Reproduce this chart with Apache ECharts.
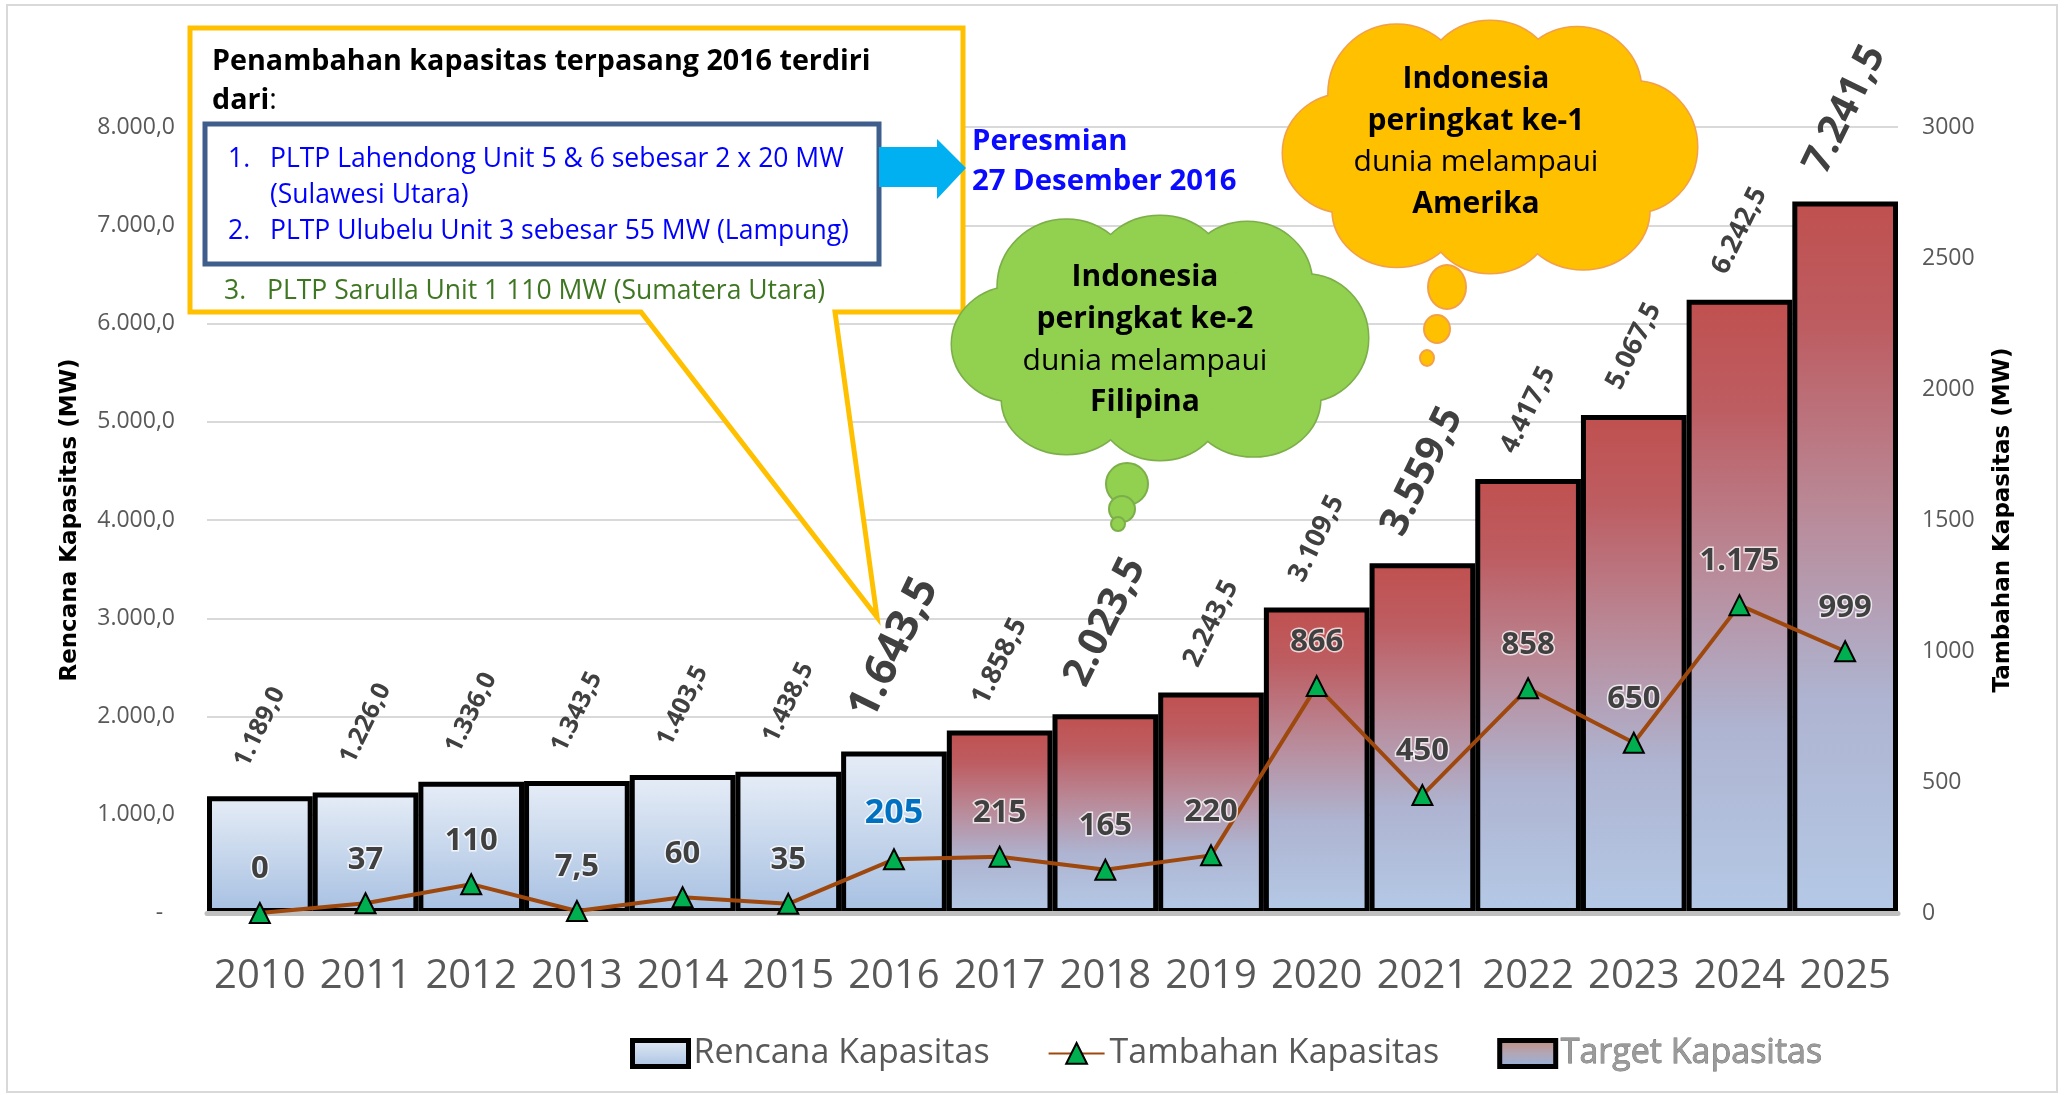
<!DOCTYPE html>
<html><head><meta charset="utf-8">
<script src="https://cdn.jsdelivr.net/npm/echarts@6/dist/echarts.min.js"></script>
<style>html,body{margin:0;padding:0;background:#fff}#c{width:2067px;height:1095px}</style>
</head><body><div id="c"></div>
<script>
// ---------- DATA ----------
const years = ['2010','2011','2012','2013','2014','2015','2016','2017','2018','2019','2020','2021','2022','2023','2024','2025'];
const rencanaKapasitas = [1189.0, 1226.0, 1336.0, 1343.5, 1403.5, 1438.5, 1643.5];            // 2010-2016
const targetKapasitas = [1858.5, 2023.5, 2243.5, 3109.5, 3559.5, 4417.5, 5067.5, 6242.5, 7241.5]; // 2017-2025
const tambahanKapasitas = [0, 37, 110, 7.5, 60, 35, 205, 215, 165, 220, 866, 450, 858, 650, 1175, 999];
const leftAxisTicks = [0, 1000, 2000, 3000, 4000, 5000, 6000, 7000, 8000];
const rightAxisTicks = [0, 500, 1000, 1500, 2000, 2500, 3000];
const bigLabelYears = { '2016': 44, '2018': 40, '2021': 40, '2025': 40 };
const smallLabelYears = ['2010','2011','2012','2013','2014','2015'];
const highlightYear = '2016';

// ---------- HELPERS ----------
const FONT = '"Open Sans", "Noto Sans", sans-serif';
function fmtID(v, dec) {
  const s = Number(v).toFixed(dec);
  let parts = s.split('.');
  let ip = parts[0].replace(/\B(?=(\d{3})+(?!\d))/g, '.');
  return parts[1] ? ip + ',' + parts[1] : ip;
}
function barLabel(year) {
  let fs = smallLabelYears.includes(year) ? 25 : 27;
  let dist = 69;
  if (bigLabelYears[year]) { fs = bigLabelYears[year]; dist = fs > 42 ? 103 : 92; }
  return { fontSize: fs, distance: dist };
}
const nR = rencanaKapasitas.length;
const rencanaData = years.map((y, i) => i < nR ? { value: rencanaKapasitas[i], label: barLabel(y) } : '-');
const targetData = years.map((y, i) => i >= nR ? { value: targetKapasitas[i - nR], label: barLabel(y) } : '-');
const tambahanData = years.map((y, i) => {
  const d = { value: tambahanKapasitas[i] };
  if (y === highlightYear) d.label = { color: '#0070c0', fontSize: 34, distance: 18 };
  return d;
});

const blueGrad = { type: 'linear', x: 0, y: 0, x2: 0, y2: 1, colorStops: [
  { offset: 0, color: '#e6edf7' }, { offset: 0.45, color: '#cad9ed' }, { offset: 1, color: '#a7c0e2' }] };
const redGrad = { type: 'linear', x: 0, y: 0, x2: 0, y2: 1, colorStops: [
  { offset: 0, color: '#c0504f' }, { offset: 0.18, color: '#bd5d62' }, { offset: 0.45, color: '#b98c9b' },
  { offset: 0.7, color: '#aeb4d1' }, { offset: 1, color: '#b4c9e6' }] };
const legendTargetGrad = { type: 'linear', x: 0, y: 0, x2: 0, y2: 1, colorStops: [
  { offset: 0, color: '#c28a78' }, { offset: 0.5, color: '#b3a6b6' }, { offset: 1, color: '#8fb4e0' }] };

const barLabelBase = {
  show: true, position: 'top', rotate: 64, align: 'center', verticalAlign: 'middle',
  color: '#404040', fontWeight: 'bold', fontFamily: FONT,
  formatter: p => fmtID(p.value, 1)
};

// ---------- ANNOTATION GRAPHICS ----------
function cloud(cx, cy, rx, ry, fill, stroke, bubbles) {
  const T = [[-0.70,0.05,0.30,0.47],[-0.45,-0.42,0.33,0.55],[0,-0.55,0.31,0.45],[0.42,-0.45,0.31,0.5],
             [0.70,0,0.30,0.52],[0.45,0.5,0.32,0.47],[0,0.55,0.30,0.45],[-0.45,0.5,0.31,0.45],[0,0,0.72,0.62]];
  const els = [];
  const shapes = T.map(t => ({ cx: cx + t[0]*rx, cy: cy + t[1]*ry, rx: t[2]*rx, ry: t[3]*ry }));
  shapes.forEach(s => els.push({ type: 'ellipse', shape: s, style: { fill, stroke, lineWidth: 3 }, z: 50, silent: true }));
  shapes.forEach(s => els.push({ type: 'ellipse', shape: s, style: { fill }, z: 51, silent: true }));
  bubbles.forEach(b => els.push({ type: 'ellipse', shape: { cx: b[0], cy: b[1], rx: b[2], ry: b[3] },
    style: { fill, stroke, lineWidth: 2 }, z: 50, silent: true }));
  return els;
}
function txt(x, y, text, opt) {
  return Object.assign({ type: 'text', x, y, z: 60, silent: true,
    style: Object.assign({ text, fontFamily: FONT, fontSize: 29, fill: '#000', textAlign: 'left', textVerticalAlign: 'middle' }, opt || {}) });
}
function ctxt(x, y, text, bold) {
  return txt(x, y, text, { textAlign: 'center', fontWeight: bold ? 'bold' : 'normal', fontSize: 30 });
}
const LIST_FS = 26.5;

const graphics = [
  { type: 'rect', shape: { x: 7, y: 5, width: 2050, height: 1087 }, style: { fill: 'none', stroke: '#d9d9d9', lineWidth: 2 }, z: 0, silent: true },
  // callout
  { type: 'polygon', shape: { points: [[190,28],[963,28],[963,312],[835,312],[877,617],[641,312],[190,312]] },
    style: { fill: '#fff', stroke: '#ffc000', lineWidth: 5, lineJoin: 'miter' }, z: 40, silent: true },
  { type: 'rect', shape: { x: 205, y: 124, width: 674, height: 140 }, style: { fill: '#fff', stroke: '#3f5e8c', lineWidth: 5 }, z: 41, silent: true },
  { type: 'polygon', shape: { points: [[879,147],[937,147],[937,139],[966,168],[937,199],[937,187],[879,187]] },
    style: { fill: '#00b0f0' }, z: 42, silent: true },
  txt(212, 62, 'Penambahan kapasitas terpasang 2016 terdiri', { fontWeight: 'bold', fontSize: 28.7 }),
  { type: 'text', x: 212, y: 101, z: 60, silent: true, style: { text: '{b|dari}{n|:}', textVerticalAlign: 'middle',
      rich: { b: { fontFamily: FONT, fontSize: 28.7, fontWeight: 'bold', fill: '#000' }, n: { fontFamily: FONT, fontSize: 28.7, fill: '#000' } } } },
  txt(228, 159, '1.', { fontSize: LIST_FS, fill: '#0000ff' }),
  txt(270, 159, 'PLTP Lahendong Unit 5 & 6 sebesar 2 x 20 MW', { fontSize: LIST_FS, fill: '#0000ff' }),
  txt(270, 195, '(Sulawesi Utara)', { fontSize: LIST_FS, fill: '#0000ff' }),
  txt(228, 231, '2.', { fontSize: LIST_FS, fill: '#0000ff' }),
  txt(270, 231, 'PLTP Ulubelu Unit 3 sebesar 55 MW (Lampung)', { fontSize: LIST_FS, fill: '#0000ff' }),
  txt(224, 291, '3.', { fontSize: LIST_FS, fill: '#3f7622' }),
  txt(267, 291, 'PLTP Sarulla Unit 1 110 MW (Sumatera Utara)', { fontSize: LIST_FS, fill: '#3f7622' }),
  txt(972, 142, 'Peresmian', { fontWeight: 'bold', fill: '#0a0aff', fontSize: 29.3 }),
  txt(972, 182, '27 Desember 2016', { fontWeight: 'bold', fill: '#0a0aff', fontSize: 29.3 }),
].concat(
  cloud(1160, 338, 208, 122, '#92d050', '#7cae4a', [[1127,484,21,21],[1122,509,13,13],[1118,524,7,7]]),
  [ctxt(1145, 277, 'Indonesia', true), ctxt(1145, 319, 'peringkat ke-2', true), ctxt(1145, 361, 'dunia melampaui', false), ctxt(1145, 402, 'Filipina', true)],
  cloud(1490, 147, 207, 126, '#ffc000', '#f3a04a', [[1447,287,19,22],[1437,329,13,14],[1427,358,7,8]]),
  [ctxt(1476, 79, 'Indonesia', true), ctxt(1476, 121, 'peringkat ke-1', true), ctxt(1476, 162, 'dunia melampaui', false), ctxt(1476, 204, 'Amerika', true)]
);

// ---------- CHART ----------
const chart = echarts.init(document.getElementById('c'), null, { renderer: 'canvas' });
chart.setOption({
  backgroundColor: '#fff',
  animation: false,
  grid: { left: 207, right: 169, top: 127, bottom: 182, outerBoundsMode: 'none' },
  legend: {
    left: 625, top: 1031, itemWidth: 56, itemHeight: 26, itemGap: 58,
    textStyle: { fontFamily: FONT, fontSize: 34, color: '#595959' },
    data: [
      { name: 'Rencana Kapasitas', icon: 'rect', itemStyle: { borderColor: '#000', borderWidth: 5 } },
      { name: 'Tambahan Kapasitas' },
      { name: 'Target Kapasitas', icon: 'rect', itemStyle: { color: legendTargetGrad, borderColor: '#000', borderWidth: 5 },
        textStyle: { color: '#9a9a9a', textBorderColor: '#6a6a6a', textBorderWidth: 0.8 } }
    ]
  },
  xAxis: {
    type: 'category', data: years, z: 3,
    axisLine: { show: true, lineStyle: { color: '#bfbfbf', width: 5 } },
    axisTick: { show: false },
    axisLabel: { fontFamily: FONT, fontSize: 40, color: '#595959', margin: 44, interval: 0 }
  },
  yAxis: [
    {
      type: 'value', min: leftAxisTicks[0], max: leftAxisTicks[leftAxisTicks.length - 1], interval: leftAxisTicks[1] - leftAxisTicks[0],
      name: 'Rencana Kapasitas (MW)', nameLocation: 'middle', nameGap: 125,
      nameTextStyle: { fontFamily: '"DejaVu Sans", sans-serif', fontWeight: 'bold', fontSize: 23, color: '#000' },
      axisLine: { show: false }, axisTick: { show: false },
      splitLine: { show: true, lineStyle: { color: '#d9d9d9', width: 2 } },
      axisLabel: { fontFamily: FONT, fontSize: 23, color: '#595959', margin: 32,
        formatter: v => v === 0 ? '-  ' : fmtID(v, 1) }
    },
    {
      type: 'value', min: rightAxisTicks[0], max: rightAxisTicks[rightAxisTicks.length - 1], interval: rightAxisTicks[1] - rightAxisTicks[0],
      name: 'Tambahan Kapasitas (MW)', nameLocation: 'middle', nameGap: 94,
      nameTextStyle: { fontFamily: '"DejaVu Sans", sans-serif', fontWeight: 'bold', fontSize: 23, color: '#000' },
      axisLine: { show: false }, axisTick: { show: false }, splitLine: { show: false },
      axisLabel: { fontFamily: FONT, fontSize: 23, color: '#595959', margin: 24, formatter: v => String(v) }
    }
  ],
  series: [
    {
      name: 'Rencana Kapasitas', type: 'bar', stack: 'kap', barWidth: '100%', barCategoryGap: 0, z: 2,
      itemStyle: { color: blueGrad, borderColor: '#000', borderWidth: 5 },
      label: barLabelBase, data: rencanaData, silent: true
    },
    {
      name: 'Target Kapasitas', type: 'bar', stack: 'kap', barWidth: '100%', barCategoryGap: 0, z: 2,
      itemStyle: { color: redGrad, borderColor: '#000', borderWidth: 5 },
      label: barLabelBase, data: targetData, silent: true
    },
    {
      name: 'Tambahan Kapasitas', type: 'line', yAxisIndex: 1, z: 5,
      symbol: 'triangle', symbolSize: [20, 20],
      lineStyle: { color: '#9e480e', width: 4 },
      itemStyle: { color: '#00b050', borderColor: '#000', borderWidth: 2 },
      label: { show: true, position: 'top', distance: 17, fontFamily: FONT, fontSize: 31, fontWeight: 'bold', color: '#404040',
        textBorderColor: 'rgba(255,255,255,0.75)', textBorderWidth: 3,
        formatter: p => fmtID(p.value, Number.isInteger(p.value) ? 0 : 1) },
      data: tambahanData, silent: true
    }
  ],
  graphic: graphics
});
</script></body></html>
